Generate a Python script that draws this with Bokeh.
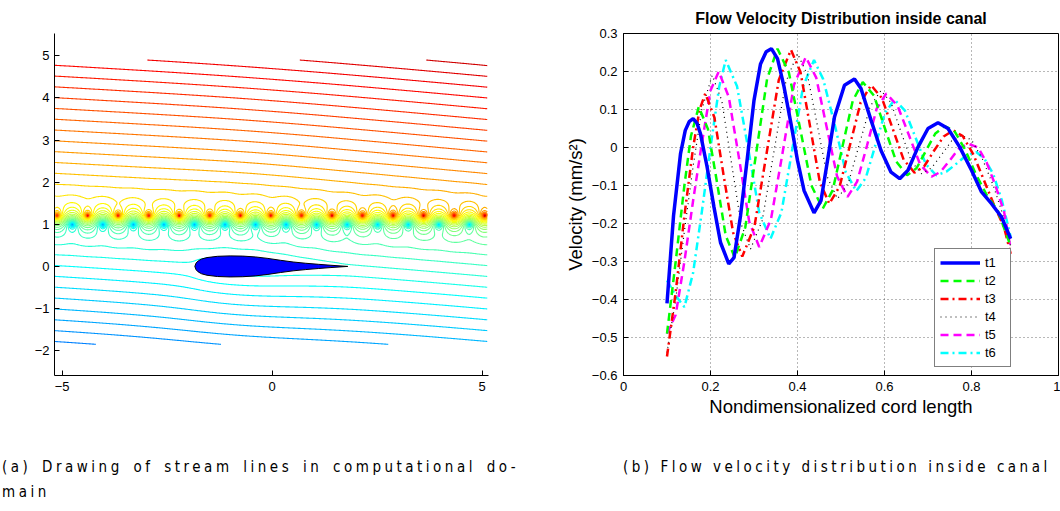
import numpy as np
from bokeh.plotting import figure
from bokeh.models import FixedTicker, Legend, LegendItem, Div, Range1d
from bokeh.layouts import row, column
from bokeh.embed import file_html
from bokeh.resources import INLINE

FONT = "Liberation Sans"

# ---------------- panel (a): stream-line field parameters ----------------
airfoil_x = [-1.84, -1.81, -1.76, -1.68, -1.55, -1.30, -1.00, -0.70, -0.40, -0.10, 0.20, 0.50, 0.80, 1.10, 1.40, 1.80]
airfoil_half = [0.0, 0.08, 0.13, 0.175, 0.21, 0.24, 0.25, 0.245, 0.225, 0.19, 0.145, 0.105, 0.075, 0.05, 0.027, 0.0]
vortex_spacing = 0.727
red_row_y = 1.21
cyan_row_y = 1.00
red_row_x0 = -5.12
vortex_strength = 0.6
stream_tilt = 0.075
stream_curvature = 0.0014
level_step = 0.256
level_ref = 5.751
x_ticks_a = [-5, 0, 5]
y_ticks_a = [-2, -1, 0, 1, 2, 3, 4, 5]

# ---------------- panel (b): velocity series ----------------
t1_x = [0.10, 0.115, 0.131, 0.142, 0.151, 0.160, 0.169, 0.177, 0.192, 0.208, 0.223, 0.242, 0.254, 0.269, 0.285, 0.300, 0.315, 0.328, 0.340, 0.354, 0.369, 0.385, 0.400, 0.415, 0.438, 0.454, 0.469, 0.485, 0.508, 0.531, 0.546, 0.569, 0.592, 0.615, 0.635, 0.654, 0.677, 0.700, 0.723, 0.746, 0.773, 0.800, 0.823, 0.846, 0.869, 0.89]
t1_y = [-0.41, -0.18, -0.017, 0.045, 0.068, 0.076, 0.064, 0.036, -0.05, -0.157, -0.25, -0.306, -0.29, -0.18, -0.025, 0.124, 0.22, 0.252, 0.26, 0.234, 0.16, 0.063, -0.034, -0.113, -0.172, -0.14, -0.034, 0.08, 0.164, 0.18, 0.155, 0.072, -0.008, -0.065, -0.082, -0.06, 0.001, 0.05, 0.065, 0.05, 0.001, -0.06, -0.117, -0.148, -0.183, -0.24]
t2_x = [0.10, 0.12, 0.14, 0.155, 0.173, 0.194, 0.215, 0.235, 0.256, 0.28, 0.305, 0.33, 0.354, 0.38, 0.406, 0.432, 0.458, 0.481, 0.504, 0.527, 0.55, 0.576, 0.601, 0.627, 0.652, 0.674, 0.695, 0.717, 0.738, 0.76, 0.785, 0.81, 0.835, 0.86, 0.89]
t2_y = [-0.49, -0.30, -0.10, 0.03, 0.107, 0.049, -0.092, -0.232, -0.29, -0.21, -0.015, 0.18, 0.26, 0.198, 0.05, -0.10, -0.161, -0.112, 0.006, 0.123, 0.172, 0.136, 0.05, -0.037, -0.073, -0.054, -0.009, 0.037, 0.056, 0.045, -0.005, -0.07, -0.125, -0.165, -0.26]
t3_x = [0.10, 0.12, 0.14, 0.16, 0.175, 0.188, 0.209, 0.23, 0.252, 0.273, 0.301, 0.329, 0.357, 0.385, 0.407, 0.429, 0.451, 0.473, 0.497, 0.521, 0.545, 0.569, 0.594, 0.619, 0.644, 0.669, 0.691, 0.713, 0.736, 0.758, 0.78, 0.805, 0.83, 0.855, 0.875, 0.89]
t3_y = [-0.55, -0.38, -0.18, 0.0, 0.10, 0.142, 0.079, -0.072, -0.224, -0.287, -0.208, -0.015, 0.178, 0.257, 0.198, 0.055, -0.089, -0.148, -0.102, 0.008, 0.118, 0.164, 0.130, 0.049, -0.032, -0.066, -0.05, -0.01, 0.029, 0.045, 0.03, -0.02, -0.09, -0.16, -0.21, -0.28]
t4_x = [0.10, 0.12, 0.14, 0.16, 0.18, 0.204, 0.226, 0.248, 0.27, 0.292, 0.319, 0.346, 0.373, 0.40, 0.423, 0.446, 0.469, 0.492, 0.517, 0.542, 0.567, 0.592, 0.615, 0.638, 0.662, 0.685, 0.708, 0.731, 0.754, 0.777, 0.80, 0.825, 0.85, 0.87, 0.89]
t4_y = [-0.54, -0.40, -0.22, -0.05, 0.10, 0.19, 0.123, -0.039, -0.20, -0.267, -0.192, -0.01, 0.172, 0.247, 0.191, 0.056, -0.079, -0.135, -0.093, 0.008, 0.108, 0.15, 0.118, 0.041, -0.037, -0.069, -0.054, -0.019, 0.017, 0.032, 0.02, -0.03, -0.10, -0.17, -0.26]
t5_x = [0.10, 0.12, 0.14, 0.16, 0.18, 0.20, 0.219, 0.242, 0.266, 0.289, 0.312, 0.339, 0.366, 0.392, 0.419, 0.443, 0.467, 0.491, 0.515, 0.537, 0.56, 0.582, 0.604, 0.63, 0.656, 0.682, 0.708, 0.729, 0.75, 0.771, 0.792, 0.815, 0.835, 0.855, 0.875, 0.89]
t5_y = [-0.49, -0.44, -0.30, -0.14, 0.01, 0.15, 0.20, 0.133, -0.031, -0.195, -0.262, -0.189, -0.012, 0.165, 0.238, 0.184, 0.054, -0.076, -0.13, -0.09, 0.006, 0.102, 0.142, 0.11, 0.033, -0.045, -0.077, -0.064, -0.034, -0.003, 0.01, 0.0, -0.04, -0.10, -0.17, -0.265]
t6_x = [0.10, 0.12, 0.14, 0.16, 0.18, 0.20, 0.22, 0.235, 0.261, 0.287, 0.312, 0.338, 0.363, 0.388, 0.413, 0.438, 0.459, 0.486, 0.511, 0.535, 0.557, 0.579, 0.601, 0.623, 0.647, 0.671, 0.695, 0.719, 0.742, 0.765, 0.788, 0.811, 0.83, 0.85, 0.87, 0.89]
t6_y = [-0.35, -0.39, -0.42, -0.33, -0.17, 0.0, 0.16, 0.23, 0.161, -0.005, -0.171, -0.24, -0.171, -0.005, 0.161, 0.23, 0.18, 0.058, -0.065, -0.115, -0.08, 0.006, 0.091, 0.126, 0.097, 0.027, -0.044, -0.073, -0.064, -0.043, -0.021, -0.012, -0.03, -0.07, -0.14, -0.235]
series_names = ["t1", "t2", "t3", "t4", "t5", "t6"]
x_ticks_b = [0, 0.2, 0.4, 0.6, 0.8, 1]
y_ticks_b = [-0.6, -0.5, -0.4, -0.3, -0.2, -0.1, 0, 0.1, 0.2, 0.3]


def fmt(v):
    s = ("%g" % v)
    return s.replace("-", "\u2212")


# ================= panel (a) =================
xg = np.linspace(-5.17, 5.12, 516)
yg = np.linspace(-1.85, 4.9, 339)
X, Y = np.meshgrid(xg, yg)
k = 2 * np.pi / vortex_spacing
psi = Y + stream_tilt * X + stream_curvature * X ** 2
psi = psi - vortex_strength * np.log(np.cosh(k * (Y - red_row_y)) - np.cos(k * (X - red_row_x0)) + 1e-9)
psi = psi + vortex_strength * np.log(np.cosh(k * (Y - cyan_row_y)) - np.cos(k * (X - red_row_x0 - vortex_spacing / 2)) + 1e-9)
ax_ = np.array(airfoil_x)
thick = 2 * np.array(airfoil_half)
xm = 0.5 * (ax_[1:] + ax_[:-1])
q = np.diff(thick)
for qi, xi in zip(q, xm):
    psi = psi + qi / (2 * np.pi) * np.arctan2(Y, X - xi)

lo = level_ref - level_step * 36
levels = [lo + level_step * i for i in range(0, 60) if lo + level_step * i <= 6.95]


def jet(t):
    t = min(max(t, 0.0), 1.0)
    r = min(max(1.5 - abs(4 * t - 3), 0), 1)
    g = min(max(1.5 - abs(4 * t - 2), 0), 1)
    b = min(max(1.5 - abs(4 * t - 1), 0), 1)
    return "#%02x%02x%02x" % (int(round(r * 255)), int(round(g * 255)), int(round(b * 255)))


colors = [jet(0.25 + 0.0708 * (L + 3.23)) for L in levels]

p1 = figure(width=560, height=430, output_backend="svg", toolbar_location=None,
            x_range=Range1d(-5.18, 5.15), y_range=Range1d(-2.59, 5.53),
            min_border_left=54, min_border_right=72, min_border_top=33, min_border_bottom=55)
p1.contour(xg, yg, psi, levels, line_color=colors, line_width=1.1)

poly_x = list(airfoil_x) + list(airfoil_x[::-1])
poly_y = list(airfoil_half) + [-h for h in airfoil_half[::-1]]
p1.patch(poly_x, poly_y, fill_color="#0000ff", line_color="black", line_width=1)

p1.outline_line_color = None
p1.grid.visible = False
for ax in (p1.xaxis[0], p1.yaxis[0]):
    ax.axis_line_color = "black"
    ax.major_tick_in = 5
    ax.major_tick_out = 0
    ax.minor_tick_line_color = None
    ax.major_label_text_font = FONT
    ax.major_label_text_font_size = "13px"
    ax.major_label_text_color = "black"
p1.xaxis.ticker = FixedTicker(ticks=x_ticks_a)
p1.yaxis.ticker = FixedTicker(ticks=y_ticks_a)
p1.xaxis.major_label_overrides = {v: fmt(v) for v in x_ticks_a}
p1.yaxis.major_label_overrides = {v: fmt(v) for v in y_ticks_a}
p1.xaxis.major_label_standoff = 6
p1.yaxis.major_label_standoff = 5

# ================= panel (b) =================
p2 = figure(width=500, height=430, output_backend="svg", toolbar_location=None,
            x_range=Range1d(0, 1), y_range=Range1d(-0.6, 0.3),
            min_border_left=63, min_border_right=2, min_border_top=33, min_border_bottom=55,
            title="Flow Velocity Distribution inside canal")
p2.title.align = "center"
p2.title.text_font = FONT
p2.title.text_font_size = "16px"
p2.title.text_font_style = "bold"
p2.title.text_color = "black"
p2.title.standoff = 13

p2.outline_line_color = "black"
p2.outline_line_width = 1
p2.xgrid.ticker = FixedTicker(ticks=x_ticks_b)
p2.ygrid.ticker = FixedTicker(ticks=y_ticks_b)
p2.grid.grid_line_color = "#333333"
p2.grid.grid_line_alpha = 0.7
p2.grid.grid_line_dash = "1 3"
for ax in (p2.xaxis[0], p2.yaxis[0]):
    ax.axis_line_color = "black"
    ax.major_tick_in = 5
    ax.major_tick_out = 0
    ax.minor_tick_line_color = None
    ax.major_label_text_font = FONT
    ax.major_label_text_font_size = "13px"
    ax.major_label_text_color = "black"
    ax.axis_label_text_font = FONT
    ax.axis_label_text_font_size = "18.5px"
    ax.axis_label_text_font_style = "normal"
    ax.axis_label_text_color = "black"
p2.xaxis.ticker = FixedTicker(ticks=x_ticks_b)
p2.yaxis.ticker = FixedTicker(ticks=y_ticks_b)
p2.xaxis.major_label_overrides = {v: fmt(v) for v in x_ticks_b}
p2.yaxis.major_label_overrides = {v: fmt(v) for v in y_ticks_b}
p2.xaxis.axis_label = "Nondimensionalized cord length"
p2.yaxis.axis_label = "Velocity (mm/s\u00b2)"
p2.xaxis.major_label_standoff = 6
p2.yaxis.major_label_standoff = 6
p2.xaxis.axis_label_standoff = 2
p2.yaxis.axis_label_standoff = 3

styles = {
    "t1": dict(line_color="#0000ff", line_width=3.5),
    "t2": dict(line_color="#00ff00", line_width=2.5, line_dash="8 5"),
    "t3": dict(line_color="#ff0000", line_width=2.5, line_dash="8 4 2 4"),
    "t4": dict(line_color="black", line_width=1.2, line_dash="1 4"),
    "t5": dict(line_color="#ff00ff", line_width=2.5, line_dash="8 5"),
    "t6": dict(line_color="#00ffff", line_width=2.5, line_dash="8 4 2 4"),
}
data = {"t1": (t1_x, t1_y), "t2": (t2_x, t2_y), "t3": (t3_x, t3_y),
        "t4": (t4_x, t4_y), "t5": (t5_x, t5_y), "t6": (t6_x, t6_y)}
rends = {}
for name in reversed(series_names):
    xs, ys = data[name]
    rends[name] = p2.line(xs, ys, **styles[name])

legend = Legend(items=[LegendItem(label=n, renderers=[rends[n]]) for n in series_names],
                location=(311, 8), orientation="vertical")
legend.label_text_font = FONT
legend.label_text_font_size = "13px"
legend.label_text_color = "black"
legend.label_height = 17
legend.glyph_height = 17
legend.glyph_width = 40
legend.label_standoff = 5
legend.spacing = 1
legend.padding = 5
legend.margin = 0
legend.border_line_color = "black"
legend.border_line_width = 1.2
legend.background_fill_alpha = 1
p2.add_layout(legend, "center")

# ================= captions =================
cap_style = ("font-family:'Liberation Sans Narrow','DejaVu Sans Condensed','Liberation Sans',sans-serif;"
             "font-stretch:condensed;font-size:15px;line-height:25px;letter-spacing:3.5px;color:#000;")
div_a = Div(text='<div style="%spadding-top:25px;padding-left:2px;width:545px;word-spacing:3px;">(a) Drawing of stream lines in computational do-<br>main</div>' % cap_style,
            width=560, height=81, margin=0)
div_b = Div(text='<div style="%spadding-top:25px;padding-left:63px;width:480px;white-space:nowrap;">(b) Flow velocity distribution inside canal</div>' % cap_style,
            width=500, height=81, margin=0)

layout = column(row(p1, p2), row(div_a, div_b))
open("out.html", "w").write(file_html(layout, INLINE))
